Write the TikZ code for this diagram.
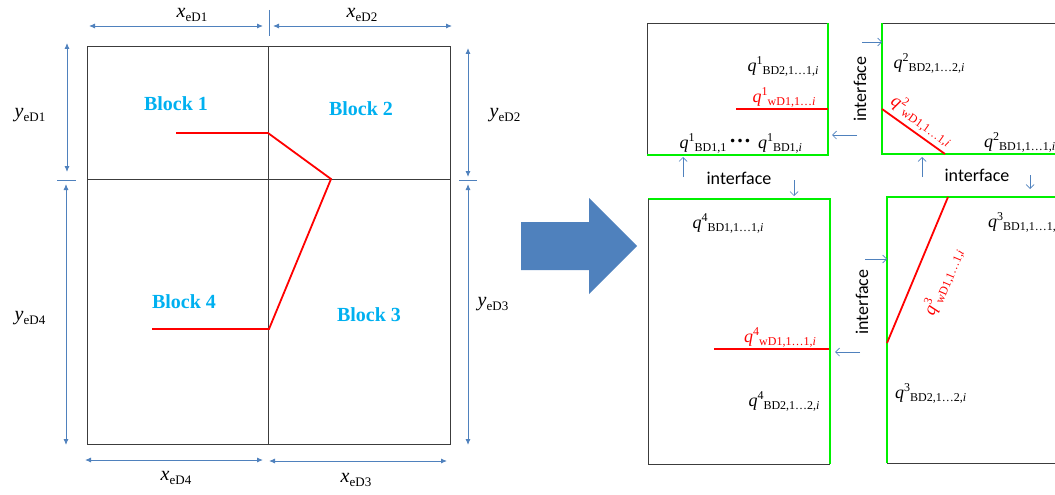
\documentclass[tikz,border=0pt]{standalone}
\usepackage{fontspec}
\setmainfont{Liberation Serif}
\newfontfamily\ifacefont{Carlito}
\usetikzlibrary{arrows.meta,positioning,calc}
\definecolor{dimblue}{RGB}{79,129,189}
\definecolor{blocklabel}{RGB}{0,176,240}
\definecolor{fracred}{RGB}{255,0,0}
\definecolor{ifacegreen}{RGB}{0,240,0}
\definecolor{gridgray}{RGB}{60,60,60}
\newcommand{\dimlab}[2]{{\fontsize{20}{20}\selectfont\textit{#1}}\raisebox{-4pt}{\fontsize{13}{13}\selectfont #2}}
\newcommand{\qlab}[3]{{\fontsize{18}{18}\selectfont\textit{q}}\raisebox{7pt}{\fontsize{12}{12}\selectfont #1}\raisebox{-3pt}{\fontsize{12}{12}\selectfont #2\textit{#3}}}
\tikzset{
  gridline/.style={gridgray,line width=0.9pt},
  fracline/.style={fracred,line width=1.8pt},
  ifaceline/.style={ifacegreen,line width=2.6pt},
  dimline/.style={dimblue,line width=0.9pt,{Latex[length=6pt,width=5pt]}-{Latex[length=6pt,width=5pt]}},
  dimtick/.style={dimblue,line width=0.9pt},
  flowarrow/.style={dimblue,line width=0.7pt,-{Straight Barb[length=4pt,width=8pt]}},
  blocklab/.style={font=\fontsize{20}{20}\selectfont\bfseries,blocklabel},
  ifacelab/.style={font=\ifacefont\fontsize{18}{18}\selectfont},
  qtext/.style={inner sep=0pt}
}
\begin{document}
\begin{tikzpicture}[x=1pt,y=-1pt]
  \useasboundingbox (0,0) rectangle (1055,495);
  \clip (0,0) rectangle (1055,495);

  % original domain split in four blocks
  \draw[gridline] (87,46) rectangle (450,444);
  \draw[gridline] (268,46) -- (268,444);
  \draw[gridline] (87,179) -- (450,179);
  \node[blocklab] (b1) at (176,104) {Block 1};
  \node[blocklab] (b2) at (361,109) {Block 2};
  \node[blocklab] (b4) at (184,302) {Block 4};
  \node[blocklab] (b3) at (369,315) {Block 3};

  % fracture
  \draw[fracline] (152,329) -- (269,329) -- (331,179) -- (268,133) -- (176,133);

  % dimensions
  \foreach \n/\a/\b in {dx1/{89,26}/{263,26}, dx2/{273,26}/{452,26},
                        dx4/{85,460}/{263,460}, dx3/{269,461}/{447,461},
                        dy1/{67,43}/{67,172}, dy4/{66,184}/{66,445},
                        dy2/{468,48}/{468,177}, dy3/{468,184}/{468,445}} {
    \coordinate (\n s) at (\a);
    \coordinate (\n e) at (\b);
    \draw[dimline] (\n s) -- (\n e);
  }
  \draw[dimtick] (269,10) -- (269,36);
  \draw[dimtick] (57,180) -- (76,180);
  \draw[dimtick] (459,180) -- (477,180);
  \node (lx1) at (192,15) {\dimlab{x}{eD1}};
  \node (lx2) at (362,15) {\dimlab{x}{eD2}};
  \node (lx4) at (176,478) {\dimlab{x}{eD4}};
  \node (lx3) at (356,480) {\dimlab{x}{eD3}};
  \node (ly1) at (30,115) {\dimlab{y}{eD1}};
  \node (ly4) at (30,318) {\dimlab{y}{eD4}};
  \node (ly2) at (505,115) {\dimlab{y}{eD2}};
  \node (ly3) at (493,304) {\dimlab{y}{eD3}};

  % big arrow
  \fill[dimblue] (521,222) -- (589,222) -- (589,198) -- (637,246)
    -- (589,294) -- (589,270) -- (521,270) -- cycle;

  % block 1
  \draw[gridline] (828,23) -- (647,23) -- (647,155);
  \draw[ifaceline] (647,155) -- (828,155) -- (828,23);
  \draw[fracline] (736,109) -- (828,109);
  \node[qtext] (q1a) at (783,66) {\qlab{1}{BD2,1…1,}{i}};
  \node[qtext,fracred] (q1w) at (784,97) {\qlab{1}{wD1,1…}{i}};
  \node[qtext] (q1b) at (703,143) {\qlab{1}{BD1,1}{}};
  \node (q1d) at (740,141) {\fontsize{22}{22}\selectfont\textbf{…}};
  \node[qtext] (q1c) at (780,143) {\qlab{1}{BD1,}{i}};

  % block 2
  \draw[gridline] (882,23) -- (1060,23);
  \draw[ifaceline] (882,23) -- (882,154) -- (1060,154);
  \draw[fracline] (882,109) -- (945,154);
  \node[qtext] (q2a) at (929,63) {\qlab{2}{BD2,1…2,}{i}};
  \node[qtext,fracred,rotate=-35] (q2w) at (922,120) {\qlab{2}{wD1,1…1,}{i}};
  \node[qtext,anchor=west] (q2b) at (984,142) {\qlab{2}{BD1,1…1,}{i}};

  % block 4
  \draw[ifaceline] (648,199) -- (830,199) -- (830,464);
  \draw[gridline] (648,199) -- (648,464) -- (830,464);
  \draw[fracline] (714,349) -- (829,349);
  \node[qtext] (q4a) at (728,223) {\qlab{4}{BD1,1…1,}{i}};
  \node[qtext,fracred] (q4w) at (780,337) {\qlab{4}{wD1,1…1,}{i}};
  \node[qtext] (q4b) at (784,401) {\qlab{4}{BD2,1…2,}{i}};

  % block 3
  \draw[ifaceline] (887,463) -- (887,197) -- (1060,197);
  \draw[gridline] (887,463) -- (1060,463);
  \draw[fracline] (887,343) -- (948,197);
  \node[qtext,anchor=west] (q3a) at (988,222) {\qlab{3}{BD1,1…1,}{i}};
  \node[qtext,fracred,rotate=67] (q3w) at (943,282) {\qlab{3}{wD1,1…1,}{i}};
  \node[qtext,anchor=west] (q3b) at (895,393) {\qlab{3}{BD2,1…2,}{i}};

  % interfaces
  \node[ifacelab,rotate=90] (if12) at (860,89) {interface};
  \node[ifacelab] (if14) at (739,178) {interface};
  \node[ifacelab] (if23) at (977,175) {interface};
  \node[ifacelab,rotate=90] (if34) at (862,302) {interface};
  \foreach \n/\a/\b in {f1/{683,177}/{683,157}, f2/{794,180}/{794,196},
                        f3/{862,42}/{882,42}, f4/{857,135}/{832,135},
                        f5/{922,177}/{922,157}, f6/{1030,175}/{1030,189},
                        f7/{865,259}/{887,259}, f8/{860,352}/{835,352}} {
    \coordinate (\n s) at (\a);
    \coordinate (\n e) at (\b);
    \draw[flowarrow] (\n s) -- (\n e);
  }
\end{tikzpicture}
\end{document}
